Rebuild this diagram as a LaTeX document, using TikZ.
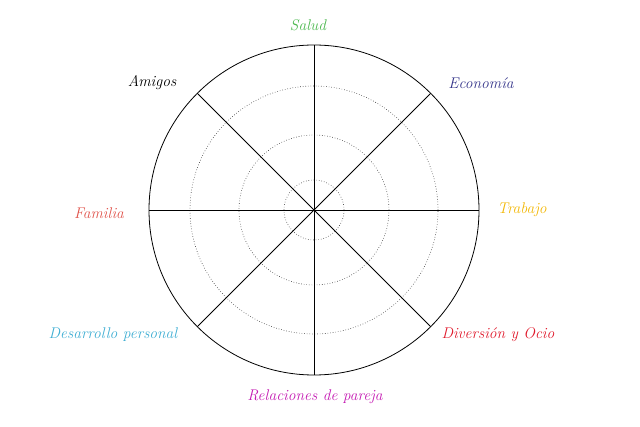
\documentclass[tikz,border=0pt]{standalone}
\usepackage{xcolor}
\usepackage{tikz}
\usetikzlibrary{positioning,calc}

\newcommand{\wheelfont}{\fontsize{15.5}{18}\selectfont\itshape}

\definecolor{saludcol}{HTML}{4CB84F}
\definecolor{ecocol}{HTML}{35358A}
\definecolor{trabcol}{HTML}{F2B705}
\definecolor{famcol}{HTML}{E0544C}
\definecolor{desacol}{HTML}{3FAED3}
\definecolor{divcol}{HTML}{E01A2C}
\definecolor{relcol}{HTML}{C41AB2}

\begin{document}
\begin{tikzpicture}[
      x=1pt, y=-1pt,
      ring/.style={draw, dotted, line width=0.6pt, black!80},
      rim/.style={draw, line width=0.8pt},
      spoke/.style={draw, line width=0.8pt},
      area/.style={font=\wheelfont, inner sep=0pt},
    ]
    \useasboundingbox (0,0) rectangle (640,427);
    \coordinate (c) at (314,210);
    % rings
    \foreach \r in {30,75,124}
      \path[ring] (c) circle (\r pt);
    \path[rim] (c) circle (165pt);
    % spokes
    \foreach \a in {0,45,...,315}
      \path[spoke] (c) -- ++(\a:165pt);
    % areas
    \node[area, text=saludcol] (salud) at (308,25) {Salud};
    \node[area, text=black] (amigos) at (152,83) {Amigos};
    \node[area, text=ecocol] (economia) at (481,83) {Econom\'{\i}a};
    \node[area, text=trabcol] (trabajo) at (522,210) {Trabajo};
    \node[area, text=famcol] (familia) at (99,213) {Familia};
    \node[area, text=desacol] (desarrollo) at (113,335) {Desarrollo personal};
    \node[area, text=divcol] (diversion) at (498,335) {Diversi\'on y Ocio};
    \node[area, text=relcol] (relaciones) at (315,397) {Relaciones de pareja};
\end{tikzpicture}
\end{document}
